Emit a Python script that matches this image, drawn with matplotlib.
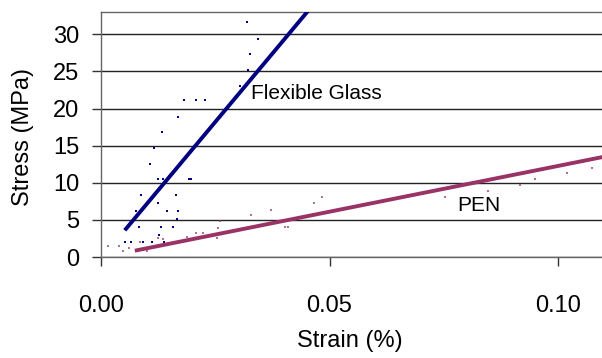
import matplotlib
matplotlib.use("Agg")
import matplotlib.pyplot as plt

plt.rcParams['font.family'] = ['Liberation Sans', 'DejaVu Sans']

# ---- data ----
glass_x = [0.03195, 0.0343, 0.0326, 0.0322, 0.0303, 0.0182, 0.0207, 0.0228,
           0.01685, 0.01328, 0.01167, 0.0108, 0.0124, 0.01364, 0.0193, 0.0197,
           0.0164, 0.0088, 0.0124, 0.0077, 0.0145, 0.0169, 0.0166, 0.0084,
           0.0131, 0.0157, 0.0126, 0.00926, 0.01116, 0.0138, 0.0053, 0.0066]
glass_y = [31.6, 29.4, 27.3, 25.2, 23.0, 21.1, 21.1, 21.1,
           18.9, 16.8, 14.65, 12.5, 10.44, 10.44, 10.44, 10.44,
           8.29, 8.29, 7.26, 6.18, 6.22, 6.22, 5.1, 4.03,
           4.03, 4.03, 2.96, 1.97, 1.97, 1.97, 2.06, 2.06]

pen_x = [0.00146, 0.004, 0.0049, 0.0062, 0.0085, 0.010, 0.0125, 0.0135,
         0.0188, 0.0207, 0.0224, 0.0253, 0.0255, 0.026, 0.0328, 0.0372,
         0.0403, 0.041, 0.0467, 0.0483, 0.0753, 0.0846, 0.0917, 0.0950,
         0.1019, 0.1074]
pen_y = [1.52, 1.52, 0.85, 1.17, 1.97, 0.85, 2.5, 2.42,
         2.73, 3.18, 3.18, 2.5, 3.9, 4.84, 5.65, 6.36,
         4.03, 4.03, 7.26, 8.1, 8.1, 8.83, 9.72, 10.44,
         11.29, 12.0]

glass_fit_x = [0.0052, 0.0455]
glass_fit_y = [3.6, 33.3]
pen_fit_x = [0.0074, 0.1100]
pen_fit_y = [0.85, 13.5]

x_ticks = [0.0, 0.05, 0.10]
x_tick_labels = ['0.00', '0.05', '0.10']
y_ticks = [0, 5, 10, 15, 20, 25, 30]

W, H = 602, 358
fig = plt.figure(figsize=(W / 100, H / 100), dpi=100)
ax = fig.add_axes([101 / W, 1 - 257 / H, (W - 101) / W, (257 - 12) / H])

navy = '#000080'
plum = '#993366'

ax.plot(glass_x, glass_y, 's', color=navy, ms=1.7, mew=0, zorder=3)
ax.plot(pen_x, pen_y, 's', color=plum, ms=1.7, mew=0, alpha=0.7, zorder=3)
ax.plot(glass_fit_x, glass_fit_y, '-', color=navy, lw=2.8, zorder=4,
        solid_capstyle='butt')
ax.plot(pen_fit_x, pen_fit_y, '-', color=plum, lw=2.8, zorder=4,
        solid_capstyle='butt')

ax.set_xlim(0, 0.1096)
ax.set_ylim(0, 33)
ax.set_xticks(x_ticks)
ax.set_xticklabels(x_tick_labels)
ax.set_yticks(y_ticks)

ax.yaxis.grid(True, color='#222222', lw=1.0)
ax.set_axisbelow(True)

ax.spines['right'].set_visible(False)
for s in ['left', 'top', 'bottom']:
    ax.spines[s].set_color('#666666')
    ax.spines[s].set_linewidth(1.0)

ax.tick_params(axis='both', direction='out', length=6.5, width=1.0,
               color='#333333', labelsize=17)
ax.tick_params(axis='x', pad=21)
ax.tick_params(axis='y', pad=9)

ax.text(0.0328, 22.0, 'Flexible Glass', fontsize=15, ha='left', va='center')
ax.text(0.0780, 7.0, 'PEN', fontsize=15, ha='left', va='center')

fig.text(350 / W, 1 - 341 / H, 'Strain (%)', fontsize=17, ha='center', va='center')
fig.text(23 / W, 1 - 137 / H, 'Stress (MPa)', fontsize=17, ha='center',
         va='center', rotation=90)

fig.savefig('out.png', dpi=100)
